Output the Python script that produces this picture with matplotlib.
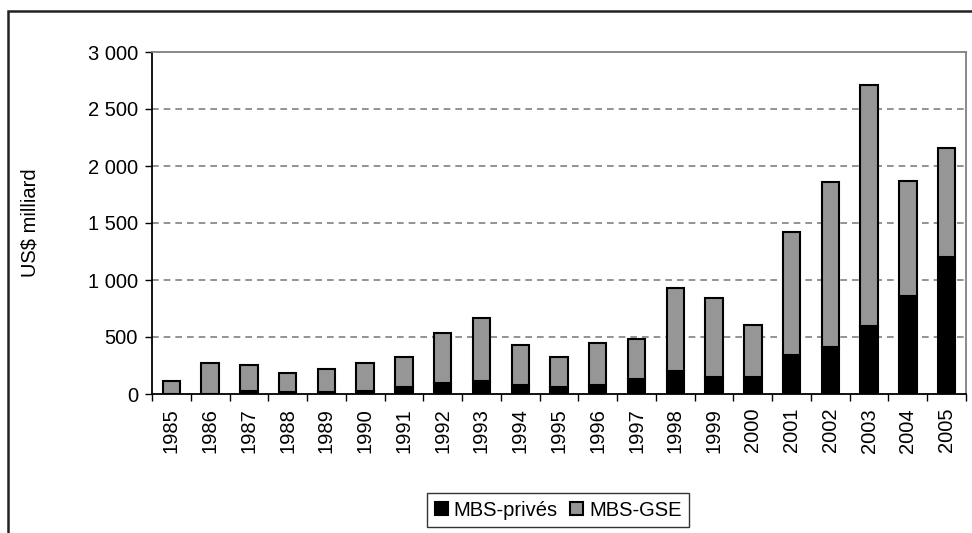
import numpy as np
import matplotlib.pyplot as plt
from matplotlib.patches import Rectangle

plt.rcParams['font.family'] = ['Liberation Sans', 'DejaVu Sans']

# Données (US$ milliard)
years = ['1985', '1986', '1987', '1988', '1989', '1990', '1991', '1992', '1993', '1994', '1995',
         '1996', '1997', '1998', '1999', '2000', '2001', '2002', '2003', '2004', '2005']
mbs_prives = [0, 4, 22, 18, 18, 22, 64, 99, 117, 79, 64, 79, 134, 202, 152, 152, 342, 415, 593, 856, 1198]
mbs_gse = [110, 270, 232, 169, 201, 252, 261, 439, 547, 351, 258, 371, 351, 730, 693, 453, 1082, 1441, 2120, 1015, 960]
ytick_vals = [0, 500, 1000, 1500, 2000, 2500, 3000]
ytick_labels = ['0', '500', '1 000', '1 500', '2 000', '2 500', '3 000']

fs = 14.5
fig = plt.figure(figsize=(9.72, 5.33), dpi=100)
ax = fig.add_axes([152/972, 1 - 394/533, 814/972, 342/533])

x = np.arange(len(years))
w = 0.45
ax.bar(x, mbs_prives, w, color='black', edgecolor='black', linewidth=1.5,
       label='MBS-privés', zorder=3)
ax.bar(x, mbs_gse, w, bottom=mbs_prives, color='#969696', edgecolor='black',
       linewidth=1.5, label='MBS-GSE', zorder=3)

ax.set_xlim(-0.5, len(years) - 0.5)
ax.set_ylim(0, 3000)

# Axe Y
ax.set_yticks(ytick_vals)
ax.set_yticklabels(ytick_labels, fontsize=fs)
ax.tick_params(axis='y', direction='out', length=5, width=1, pad=5)
for v in ytick_vals[1:-1]:
    ax.axhline(v, color='#808080', lw=1.2, dashes=(4, 3), zorder=1)

# Axe X : graduations entre catégories, étiquettes au centre
ax.set_xticks(np.arange(-0.5, len(years), 1))
ax.set_xticklabels([])
ax.tick_params(axis='x', which='major', direction='out', length=5, width=1)
ax.set_xticks(x, minor=True)
ax.set_xticklabels(years, minor=True, rotation=90, fontsize=fs)
ax.tick_params(axis='x', which='minor', length=0, pad=10)

ax.set_ylabel('US$ milliard', fontsize=fs)
ax.yaxis.set_label_coords(-0.138, 0.5)

for s in ['left', 'bottom']:
    ax.spines[s].set_color('black')
    ax.spines[s].set_linewidth(1.3)
for s in ['top', 'right']:
    ax.spines[s].set_color('#808080')
    ax.spines[s].set_linewidth(1.3)

leg = fig.legend(loc='center', bbox_to_anchor=(558/972, 1 - 510/533), ncol=2,
                 fontsize=fs, frameon=True, fancybox=False, edgecolor='black',
                 handlelength=0.65, handleheight=0.65, handletextpad=0.3,
                 columnspacing=0.6, borderpad=0.35)
leg.get_frame().set_linewidth(1)

# Cadre extérieur
fig.patches.append(Rectangle((8/972, -0.1), 1.2, 1 - 11/533 + 0.1, transform=fig.transFigure,
                             fill=False, edgecolor='#222222', linewidth=1.8))

fig.savefig('out.png', dpi=100)
plt.close()
